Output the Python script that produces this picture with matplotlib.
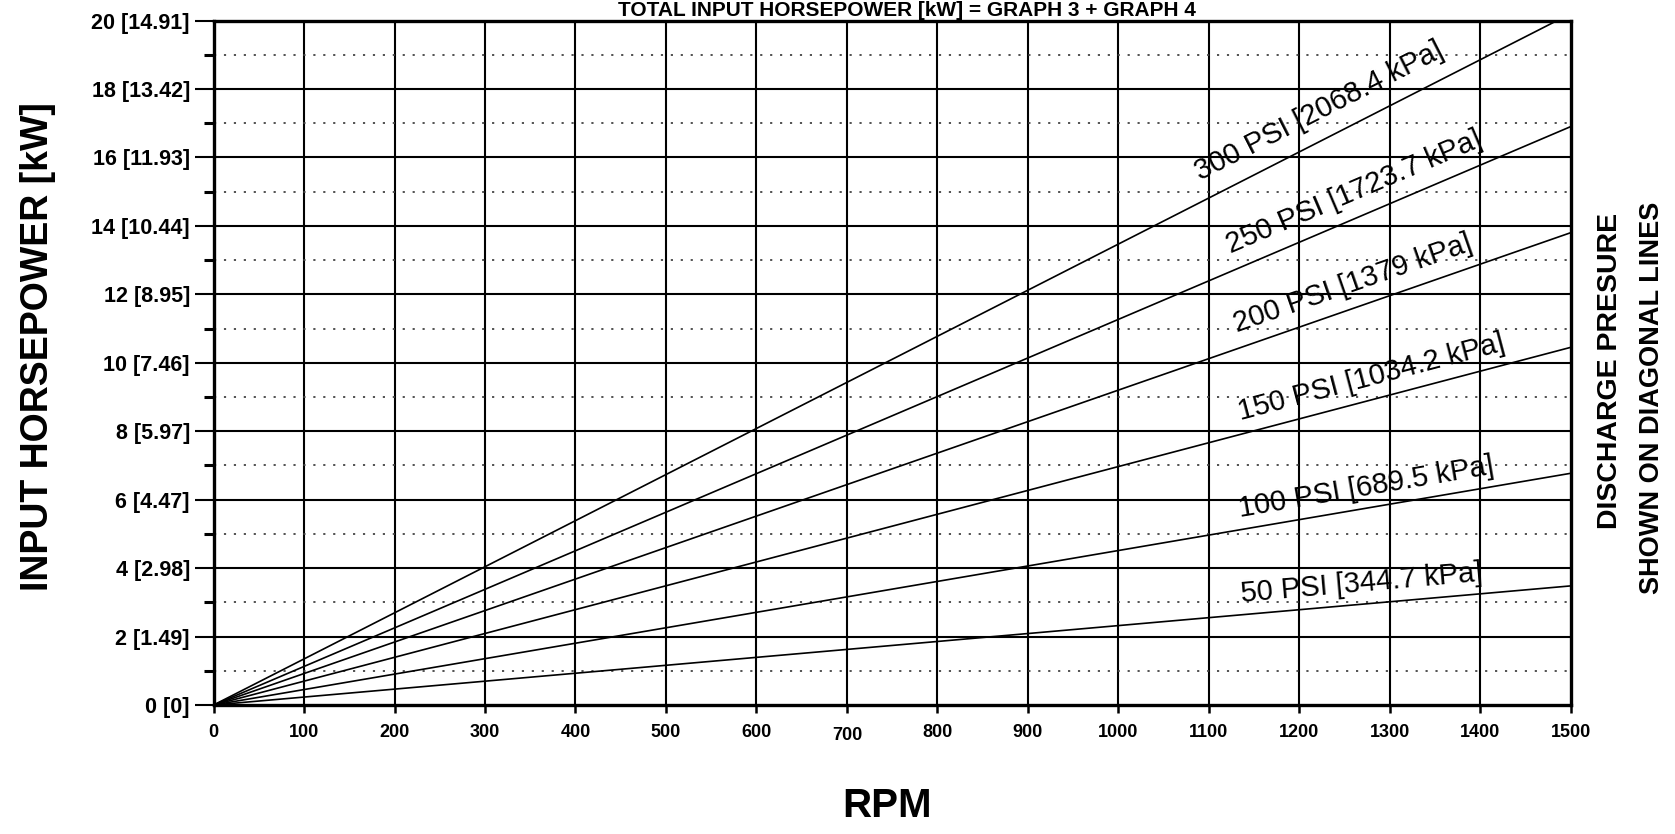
import math
import matplotlib
matplotlib.use("Agg")
import matplotlib.pyplot as plt
from matplotlib.transforms import ScaledTranslation

plt.rcParams["font.family"] = ["Liberation Sans", "DejaVu Sans"]

# Discharge pressure curves: input horsepower reached at the top speed
rpm_span = [0, 1500]
pressure_psi = [50, 100, 150, 200, 250, 300]
pressure_kpa = ["344.7", "689.5", "1034.2", "1379", "1723.7", "2068.4"]
hp_at_max_rpm = [3.48, 6.77, 10.45, 13.8, 16.9, 20.2]

# Axis ticks
rpm_ticks = list(range(0, 1501, 100))
hp_ticks = list(range(0, 21, 2))
hp_tick_labels = ["0 [0]", "2 [1.49]", "4 [2.98]", "6 [4.47]", "8 [5.97]",
                  "10 [7.46]", "12 [8.95]", "14 [10.44]", "16 [11.93]",
                  "18 [13.42]", "20 [14.91]"]
hp_minor_ticks = list(range(1, 20, 2))

# Where along each curve its label begins (rpm) and its gap above the curve (pt)
label_start_rpm = [1137, 1137, 1139, 1137, 1131, 1100]
label_gap_pt = [9, 9, 9.5, 11, 12, 14]

W, H = 1675, 834
fig = plt.figure(figsize=(W / 100, H / 100), dpi=100)
left, right = 213.6 / W, 1570.7 / W
bottom, top = 1 - 705 / H, 1 - 20.5 / H
ax = fig.add_axes([left, bottom, right - left, top - bottom])
ax.set_xlim(0, 1500)
ax.set_ylim(0, 20)

# Grid: solid verticals every 100 rpm, solid horizontals on even values,
# dotted horizontals on odd values
for x in rpm_ticks[1:-1]:
    ax.axvline(x, color="black", lw=1.5, zorder=1)
for y in hp_ticks[1:-1]:
    ax.axhline(y, color="black", lw=1.5, zorder=1)
for y in hp_minor_ticks:
    ax.axhline(y, color="#444444", lw=1.3, ls=(0, (1.2, 4.3)), zorder=1)

# Pressure lines
for hp in hp_at_max_rpm:
    ax.plot(rpm_span, [0, hp * rpm_span[1] / 1500], color="black", lw=1.2,
            zorder=2, solid_capstyle="butt")

# Labels riding along each line
for psi, kpa, hp, x0, gap in zip(pressure_psi, pressure_kpa, hp_at_max_rpm,
                                 label_start_rpm, label_gap_pt):
    slope = hp / 1500
    p1 = ax.transData.transform((0, 0))
    p2 = ax.transData.transform((1500, hp))
    ang = math.degrees(math.atan2(p2[1] - p1[1], p2[0] - p1[0]))
    dx = -math.sin(math.radians(ang)) * gap
    dy = math.cos(math.radians(ang)) * gap
    ax.annotate(f"{psi} PSI [{kpa} kPa]", xy=(x0, slope * x0),
                xytext=(dx, dy), textcoords="offset points",
                rotation=ang, rotation_mode="anchor",
                ha="left", va="baseline", fontsize=21, color="black",
                zorder=3)

# Frame and ticks
for sp in ax.spines.values():
    sp.set_linewidth(2.4)
    sp.set_color("black")
    sp.set_zorder(4)

ax.set_xticks(rpm_ticks)
ax.set_xticklabels([str(v) for v in rpm_ticks], fontsize=13, fontweight="bold")
ax.tick_params(axis="x", direction="out", length=6, width=1.8, pad=8)
ax.set_yticks(hp_ticks)
ax.set_yticklabels(hp_tick_labels, fontsize=15.5, fontweight="bold")
ax.set_yticks(hp_minor_ticks, minor=True)
ax.tick_params(axis="y", which="major", direction="out", length=14, width=1.5, pad=3)
ax.tick_params(axis="y", which="minor", direction="out", length=7, width=2.2)

# The 700 label sits a little lower than its neighbours
lbl700 = ax.get_xticklabels()[rpm_ticks.index(700)]
lbl700.set_transform(lbl700.get_transform()
                     + ScaledTranslation(0, -3 / 100, fig.dpi_scale_trans))

# Titles and axis captions
fig.text(907 / W, 1 - 16.5 / H, "TOTAL INPUT HORSEPOWER [kW] = GRAPH 3 + GRAPH 4",
         ha="center", va="baseline", fontsize=15, fontweight="bold")
fig.text(38 / W, 1 - 347 / H, "INPUT HORSEPOWER [kW]", rotation=90,
         ha="center", va="center", fontsize=27, fontweight="bold")
fig.text(887 / W, 1 - 806 / H, "RPM", ha="center", va="center",
         fontsize=29, fontweight="bold")
fig.text(1610 / W, 1 - 371 / H, "DISCHARGE PRESURE", rotation=90,
         ha="center", va="center", fontsize=20.5, fontweight="bold")
fig.text(1652 / W, 1 - 398 / H, "SHOWN ON DIAGONAL LINES", rotation=90,
         ha="center", va="center", fontsize=19.5, fontweight="bold")

fig.savefig("out.png", dpi=100)
